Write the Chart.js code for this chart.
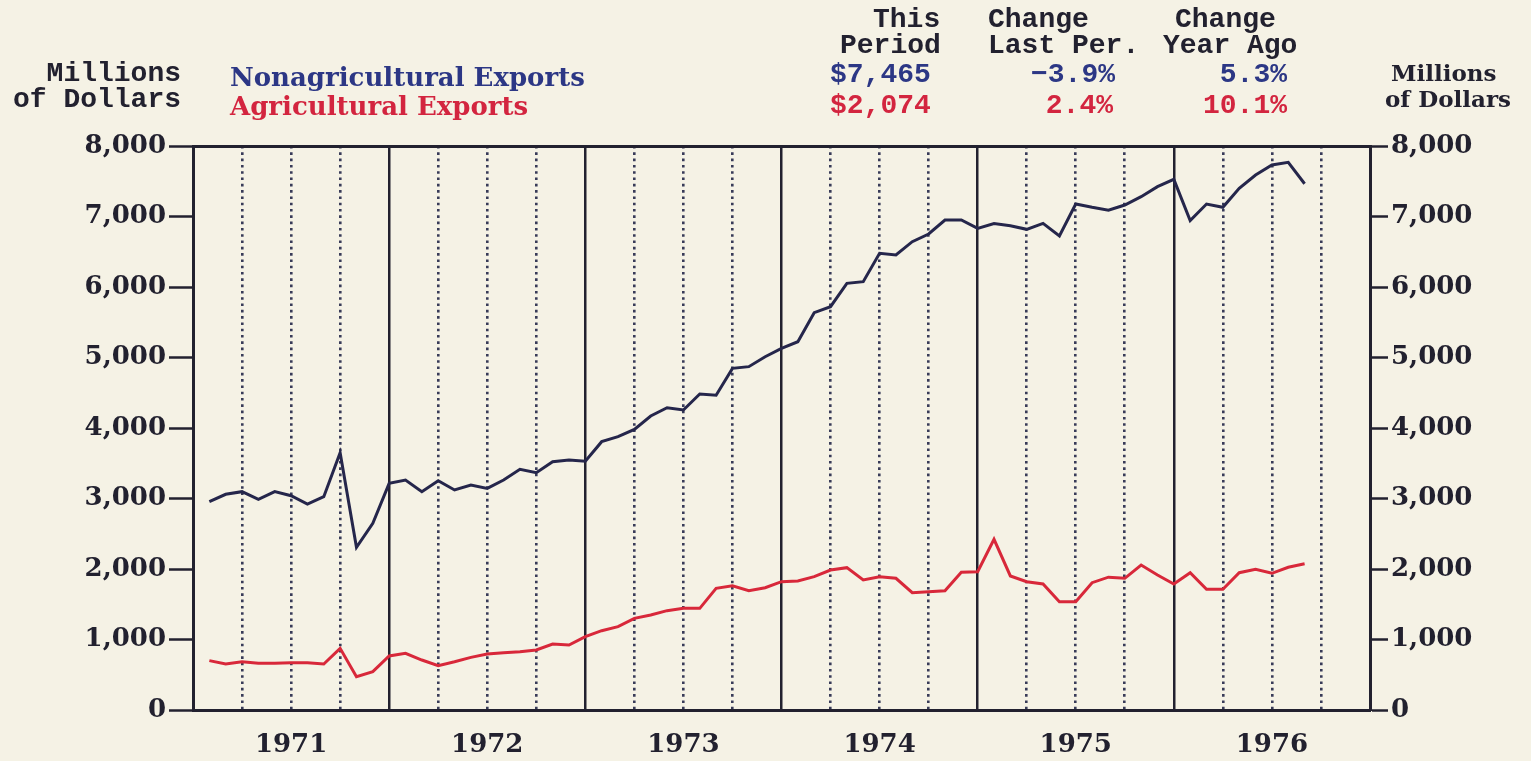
<!DOCTYPE html>
<html>
<head>
<meta charset="utf-8">
<script src="https://cdn.jsdelivr.net/npm/chart.js@4.4.0/dist/chart.umd.min.js"></script>
<style>
    body { margin: 0; background: #f5f2e5; }
    #wrap { position: relative; width: 1531px; height: 761px; overflow: hidden; }
    #chart { position: absolute; left: 0; top: 0; }
    .lbl { position: absolute; white-space: pre; line-height: 1; transform: translateY(-50%); }
    .mono { font-family: "Liberation Mono", "DejaVu Sans Mono", monospace; font-weight: bold; font-size: 28px; }
    .serif { font-family: "DejaVu Serif", serif; font-weight: bold; font-size: 26px; }
    .small { font-size: 23px; }
    .ink { color: #22212f; }
    .blue { color: #2c3785; }
    .red { color: #d3253f; }
    .right { text-align: right; }
</style>
</head>
<body>
<div id="wrap">
    <canvas id="chart" width="1531" height="761"></canvas>

    <div class="lbl mono ink right" style="right:1350px; top:74px;">Millions</div>
    <div class="lbl mono ink right" style="right:1350px; top:100px;">of Dollars</div>

    <div class="lbl serif blue" style="left:230px; top:77px;">Nonagricultural Exports</div>
    <div class="lbl serif red" style="left:230px; top:106px;">Agricultural Exports</div>

    <div class="lbl mono ink" style="left:873px; top:20px;">This</div>
    <div class="lbl mono ink" style="left:840px; top:46px;">Period</div>
    <div class="lbl mono ink" style="left:988px; top:20px;">Change</div>
    <div class="lbl mono ink" style="left:988px; top:46px;">Last Per.</div>
    <div class="lbl mono ink" style="left:1175px; top:20px;">Change</div>
    <div class="lbl mono ink" style="left:1163px; top:46px;">Year Ago</div>

    <div class="lbl mono blue" style="left:830px; top:75px;">$7,465</div>
    <div class="lbl mono blue right" style="right:416px; top:75px;">−3.9%</div>
    <div class="lbl mono blue right" style="right:244px; top:75px;">5.3%</div>
    <div class="lbl mono red" style="left:830px; top:106px;">$2,074</div>
    <div class="lbl mono red right" style="right:418px; top:106px;">2.4%</div>
    <div class="lbl mono red right" style="right:244px; top:106px;">10.1%</div>

    <div class="lbl serif small ink" style="left:1391px; top:72px;">Millions</div>
    <div class="lbl serif small ink" style="left:1385px; top:98px;">of Dollars</div>
</div>

<script>
// Monthly exports, Jan 1971 - Aug 1976, millions of dollars
const years = ['1971', '1972', '1973', '1974', '1975', '1976'];
const monthNames = ['Jan', 'Feb', 'Mar', 'Apr', 'May', 'Jun', 'Jul', 'Aug', 'Sep', 'Oct', 'Nov', 'Dec'];

const nonAgExports = [
    2955, 3060, 3097, 2988, 3097, 3040, 2922, 3026, 3650, 2307, 2648, 3215,
    3262, 3097, 3253, 3121, 3191, 3144, 3262, 3414, 3366, 3522, 3546, 3530,
    3806, 3877, 3981, 4170, 4288, 4255, 4482, 4464, 4846, 4870, 5011, 5130,
    5224, 5636, 5721, 6052, 6076, 6478, 6454, 6643, 6752, 6950, 6950, 6832,
    6900, 6868, 6818, 6903, 6723, 7177, 7130, 7089, 7163, 7281, 7423, 7527,
    6941, 7177, 7130, 7400, 7589, 7731, 7768, 7465
];
const agExports = [
    700, 652, 685, 662, 662, 671, 671, 652, 875, 473, 544, 766,
    804, 709, 629, 685, 747, 794, 813, 827, 851, 936, 922, 1040,
    1125, 1182, 1300, 1348, 1409, 1442, 1442, 1726, 1763, 1692, 1735, 1820,
    1830, 1891, 1986, 2019, 1844, 1891, 1868, 1664, 1678, 1692, 1953, 1962,
    2421, 1901, 1820, 1787, 1536, 1536, 1806, 1884, 1868, 2057, 1915, 1787,
    1948, 1712, 1712, 1948, 1996, 1939, 2025, 2074
];
const yMax = 8000;
const yStep = 1000;

const months = [];
years.forEach(y => monthNames.forEach(m => months.push(m + ' ' + y)));
const totalMonths = months.length; // 72, x runs 0..72

const INK = '#22212f';
const DOTS = '#383b58';
const tickFont = { family: '"DejaVu Serif", serif', weight: 'bold', size: 26 };

// each month is plotted at its month-end boundary
const toPoints = arr => arr.map((v, i) => ({ x: i + 1, y: v }));

function ticksEvery(step) {
    return scale => {
        const t = [];
        for (let v = 0; v <= totalMonths; v += step) t.push({ value: v });
        scale.ticks = t;
    };
}

const ctx = document.getElementById('chart');
new Chart(ctx, {
    type: 'line',
    data: {
        datasets: [
            {
                label: 'Nonagricultural Exports',
                data: toPoints(nonAgExports),
                borderColor: '#25264b',
                borderWidth: 3,
                pointRadius: 0,
                tension: 0,
                xAxisID: 'x',
                yAxisID: 'y'
            },
            {
                label: 'Agricultural Exports',
                data: toPoints(agExports),
                borderColor: '#d8283a',
                borderWidth: 3,
                pointRadius: 0,
                tension: 0,
                xAxisID: 'x',
                yAxisID: 'y'
            }
        ]
    },
    options: {
        responsive: false,
        animation: false,
        layout: { padding: { left: 0, right: 0, top: 146, bottom: 0 } },
        plugins: { legend: { display: false }, tooltip: { enabled: false } },
        scales: {
            x: {
                type: 'linear',
                position: 'bottom',
                min: 0,
                max: totalMonths,
                afterBuildTicks: scale => {
                    scale.ticks = years.map((y, i) => ({ value: i * 12 + 6 }));
                },
                afterFit: scale => { scale.height = 51; },
                ticks: {
                    callback: (v, i) => years[i],
                    font: tickFont,
                    color: INK,
                    padding: 20,
                    autoSkip: false,
                    maxRotation: 0
                },
                grid: { display: false, drawTicks: false },
                border: { display: true, color: INK, width: 3 }
            },
            xYear: {
                type: 'linear',
                position: 'top',
                min: 0,
                max: totalMonths,
                afterBuildTicks: ticksEvery(12),
                ticks: { display: false },
                grid: {
                    drawTicks: false,
                    lineWidth: 2.5,
                    color: c => (c.tick && c.tick.value > 0 && c.tick.value < totalMonths) ? INK : 'rgba(0,0,0,0)'
                },
                border: { display: true, color: INK, width: 3 }
            },
            xQuarter: {
                type: 'linear',
                position: 'top',
                min: 0,
                max: totalMonths,
                afterBuildTicks: ticksEvery(3),
                ticks: { display: false },
                grid: {
                    drawTicks: false,
                    lineWidth: 2.6,
                    borderDash: [2.6, 3.7],
                    color: c => (c.tick && c.tick.value % 12 !== 0) ? DOTS : 'rgba(0,0,0,0)'
                },
                border: { display: false, dash: [2.6, 3.7] }
            },
            y: {
                position: 'left',
                min: 0,
                max: yMax,
                afterFit: scale => { scale.width = 193; },
                ticks: {
                    stepSize: yStep,
                    callback: v => v.toLocaleString('en-US'),
                    font: tickFont,
                    color: INK,
                    padding: 3
                },
                grid: { drawOnChartArea: false, drawTicks: true, tickLength: 24, tickColor: INK, tickWidth: 2.5 },
                border: { display: true, color: INK, width: 3 }
            },
            y2: {
                position: 'right',
                min: 0,
                max: yMax,
                afterFit: scale => { scale.width = 161; },
                ticks: {
                    stepSize: yStep,
                    callback: v => v.toLocaleString('en-US'),
                    font: tickFont,
                    color: INK,
                    padding: 3
                },
                grid: { drawOnChartArea: false, drawTicks: true, tickLength: 18, tickColor: INK, tickWidth: 2.5 },
                border: { display: true, color: INK, width: 3 }
            }
        }
    }
});
</script>
</body>
</html>
